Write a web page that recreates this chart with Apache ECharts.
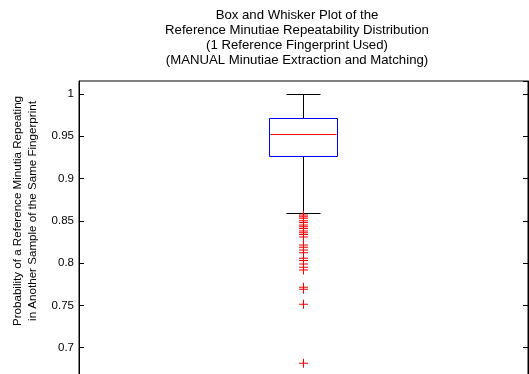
<!DOCTYPE html>
<html>
<head>
<meta charset="utf-8">
<script src="https://cdn.jsdelivr.net/npm/echarts@6/dist/echarts.min.js"></script>
<style>
html,body{margin:0;padding:0;background:#fff;}
#chart{width:529px;height:374px;}
</style>
</head>
<body>
<div id="chart"></div>
<script>
// ---- data ----
var groups = [1];
var lowerWhisker = [0.859];
var quartile1 = [0.9264];
var medians = [0.9527];
var quartile3 = [0.9713];
var upperWhisker = [1.0];
var outliers = [
  0.857, 0.855, 0.853, 0.850, 0.848, 0.845, 0.843, 0.841, 0.838, 0.836, 0.834, 0.831,
  0.8215, 0.8188, 0.8156, 0.8124, 0.8058, 0.8030, 0.7990, 0.7952, 0.7920,
  0.7715, 0.7690, 0.7514, 0.6817
];
var yTicks = [0.7, 0.75, 0.8, 0.85, 0.9, 0.95, 1];
var titleLines = [
  'Box and Whisker Plot of the',
  'Reference Minutiae Repeatability Distribution',
  '(1 Reference Fingerprint Used)',
  '(MANUAL Minutiae Extraction and Matching)'
];
var yLabelLines = [
  'Probability of a Reference Minutia Repeating',
  'in Another Sample of the Same Fingerprint'
];

var FONT = "'Liberation Sans', Arial, Helvetica, sans-serif";
var BOX_W = 0.1515;   // in x-axis units

var boxData = groups.map(function (g, i) {
  return [g, lowerWhisker[i], quartile1[i], medians[i], quartile3[i], upperWhisker[i]];
});
var outlierData = outliers.map(function (v) { return [groups[0], v]; });

function crisp(v) { return Math.round(v - 0.5) + 0.5; }

var chart = echarts.init(document.getElementById('chart'), null, {renderer: 'canvas'});

function fmt(v) {
  for (var i = 0; i < yTicks.length; i++) {
    if (Math.abs(v - yTicks[i]) < 1e-6) return String(yTicks[i]);
  }
  return '';
}

var PLUS_PATH = 'path://M4,0H5V4H9V5H5V9H4V5H0V4H4Z';

var option = {
  animation: false,
  backgroundColor: '#fff',
  textStyle: {fontFamily: FONT},
  title: {
    text: titleLines.join('\n'),
    left: 297, top: 7.5, padding: 0,
    textAlign: 'center',
    textStyle: {fontFamily: FONT, fontSize: 13.2, fontWeight: 'normal', color: '#000', lineHeight: 15}
  },
  grid: {
    left: 79, top: 81, width: 449, height: 309,
    show: true, borderColor: '#000', borderWidth: 1, backgroundColor: 'transparent',
    containLabel: false, outerBoundsMode: 'none'
  },
  xAxis: {
    type: 'value', min: 0.5, max: 1.5, show: false
  },
  yAxis: [{
    type: 'value', min: 0.65, max: 1.0154, interval: 0.05, position: 'left',
    axisLine: {show: true, lineStyle: {color: '#000'}},
    axisTick: {show: true, inside: true, length: 5, lineStyle: {color: '#000'}},
    axisLabel: {show: true, margin: 5, formatter: fmt, showMaxLabel: false, showMinLabel: false,
      fontFamily: FONT, fontSize: 11.5, color: '#000'},
    splitLine: {show: false}
  }, {
    type: 'value', min: 0.65, max: 1.0154, interval: 0.05, position: 'right',
    axisLine: {show: true, lineStyle: {color: '#000'}},
    axisTick: {show: true, inside: true, length: 5, lineStyle: {color: '#000'}},
    axisLabel: {show: false},
    splitLine: {show: false}
  }],
  graphic: [{
    type: 'text',
    x: 25.5, y: 211,
    rotation: Math.PI / 2,
    style: {
      text: yLabelLines.join('\n'),
      fontFamily: FONT, fontSize: 11.6, fill: '#000',
      align: 'center', verticalAlign: 'middle', lineHeight: 15
    }
  }],
  series: [{
    type: 'custom',
    data: boxData,
    clip: false,
    renderItem: function (params, api) {
      var x = api.value(0);
      var pLo = api.coord([x, api.value(1)]);
      var pQ1 = api.coord([x, api.value(2)]);
      var pMd = api.coord([x, api.value(3)]);
      var pQ3 = api.coord([x, api.value(4)]);
      var pHi = api.coord([x, api.value(5)]);
      var bw = api.size([BOX_W, 0])[0];
      var cw = bw / 2;
      var cx = crisp(pMd[0]);
      var left = crisp(cx - bw / 2), right = crisp(cx + bw / 2);
      var line = function (x1, y1, x2, y2, color) {
        return {type: 'line', shape: {x1: x1, y1: y1, x2: x2, y2: y2},
          style: {stroke: color, lineWidth: 1, fill: null}};
      };
      var yLo = crisp(pLo[1]), yQ1 = crisp(pQ1[1]), yMd = crisp(pMd[1]), yQ3 = crisp(pQ3[1]), yHi = crisp(pHi[1]);
      return {
        type: 'group',
        children: [
          line(cx, yHi, cx, yQ3, '#000000'),
          line(cx, yQ1, cx, yLo, '#000000'),
          line(cx - cw / 2, yHi, cx + cw / 2, yHi, '#000000'),
          line(cx - cw / 2, yLo, cx + cw / 2, yLo, '#000000'),
          {type: 'rect', shape: {x: left, y: yQ3, width: right - left, height: yQ1 - yQ3},
            style: {fill: 'none', stroke: '#0000ff', lineWidth: 1}},
          {type: 'line', shape: {x1: left + 1, y1: yMd, x2: right - 1, y2: yMd},
            style: {stroke: '#ff0000', lineWidth: 1}, z2: 10}
        ]
      };
    },
    z: 3
  }, {
    type: 'scatter',
    data: outlierData,
    symbol: PLUS_PATH,
    symbolSize: 9,
    itemStyle: {color: '#ff0000', opacity: 1},
    z: 4
  }]
};
chart.setOption(option);
</script>
</body>
</html>
